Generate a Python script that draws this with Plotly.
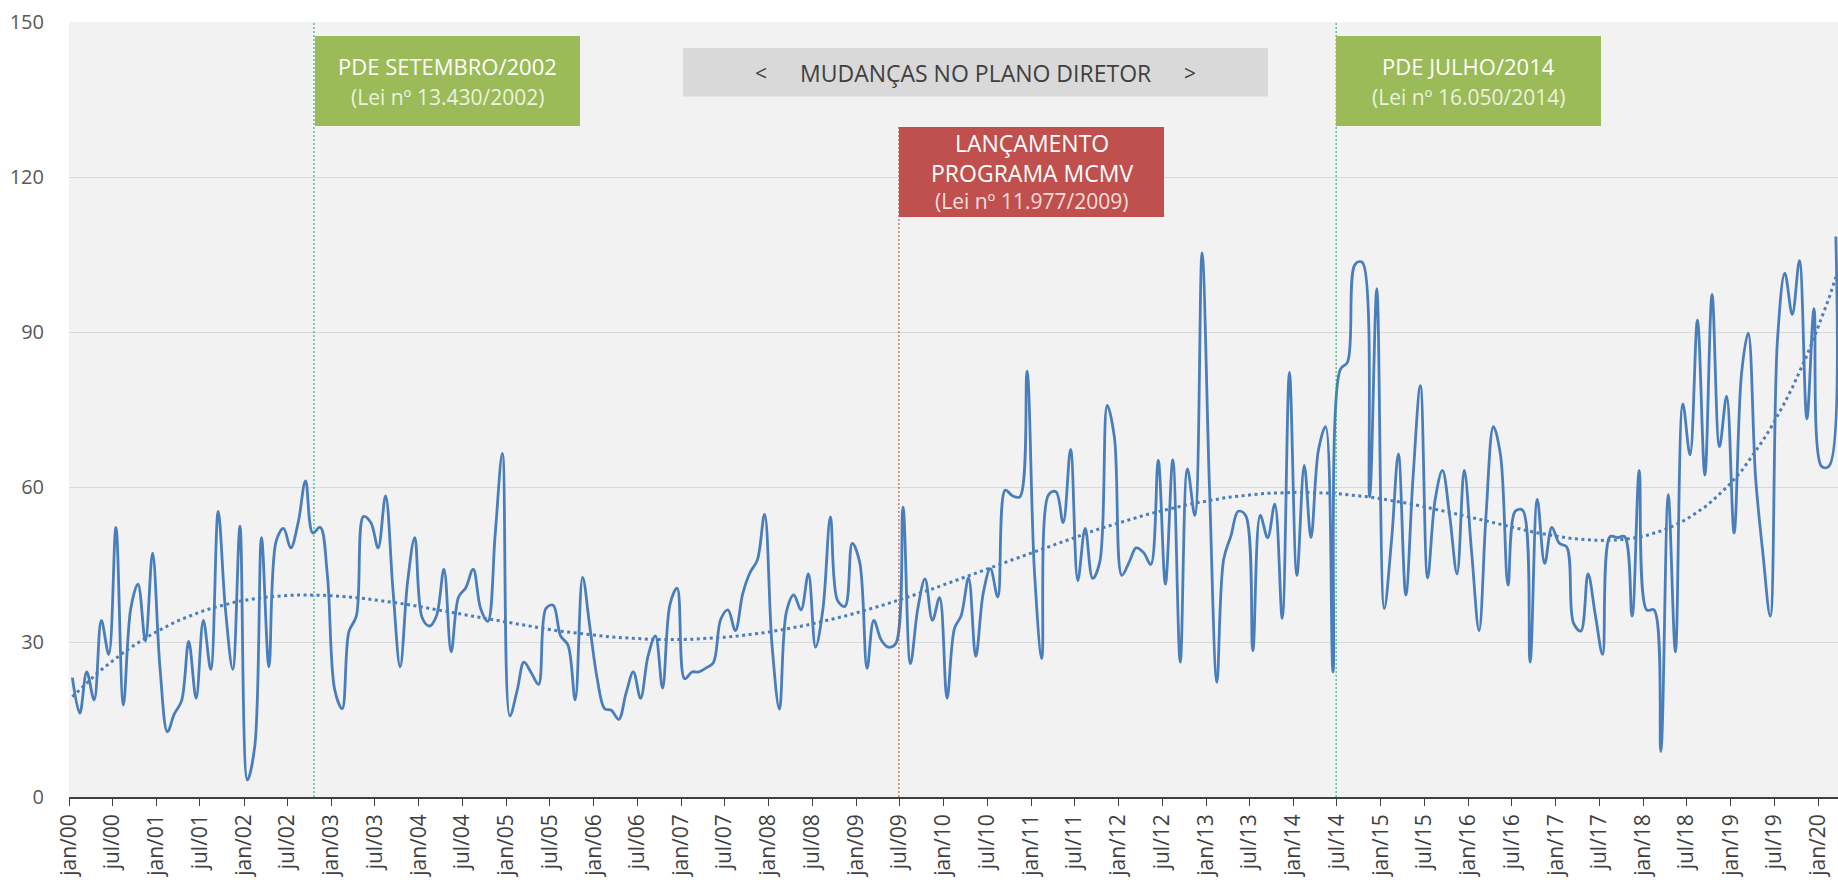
import numpy as np
import plotly.graph_objects as go

# ---------------- data ----------------
values = [
    23.1, 16.2, 24.2, 18.8, 34.2, 27.6, 52.2, 17.8, 36.5, 41.2, 30.2, 47.2,
    25.0, 12.6, 16.0, 18.6, 30.1, 19.1, 34.2, 24.7, 55.3, 36.5, 24.7, 52.4,
    3.3, 9.9, 50.2, 25.2, 49.5, 52.0, 48.2, 53.1, 61.2, 51.1, 52.2, 43.0,
    20.7, 17.1, 32.0, 35.0, 54.3, 53.1, 48.2, 58.3, 40.1, 25.2, 41.6, 50.2,
    34.7, 33.1, 35.1, 44.1, 28.1, 38.7, 40.5, 44.1, 36.5, 34.0, 50.9, 66.5,
    15.7, 20.7, 26.1, 24.0, 21.8, 36.5, 37.1, 31.2, 29.4, 18.8, 42.5, 33.0,
    22.9, 17.1, 16.8, 15.0, 20.0, 24.2, 19.1, 27.2, 31.2, 21.1, 37.3, 40.4,
    22.9, 24.2, 24.2, 25.0, 26.0, 34.4, 36.2, 32.2, 39.4, 43.4, 45.9, 54.7,
    29.4, 17.0, 35.8, 39.1, 36.2, 43.2, 29.0, 36.5, 54.2, 38.0, 36.9, 49.1,
    45.5, 24.9, 34.2, 30.4, 29.0, 29.7, 56.1, 25.8, 36.5, 42.2, 34.2, 38.6,
    19.1, 32.6, 35.1, 42.4, 27.2, 39.4, 44.2, 38.7, 59.4, 58.3, 58.1, 82.4,
    43.7, 26.8, 58.5, 59.1, 53.1, 67.3, 41.9, 52.0, 42.3, 45.5, 75.8, 69.6,
    42.9, 45.5, 48.2, 47.3, 45.0, 65.2, 41.2, 65.3, 26.1, 63.5, 54.5, 105.3,
    60.0, 22.2, 45.9, 50.6, 55.3, 54.5, 28.3, 54.5, 50.2, 56.7, 34.6, 82.2,
    42.9, 64.2, 50.2, 67.1, 71.7, 24.2, 82.7, 84.2, 103.1, 103.5, 58.1, 98.4,
    36.5, 50.0, 66.4, 39.1, 61.7, 79.6, 42.4, 57.4, 63.2, 54.5, 43.2, 63.2,
    47.3, 32.2, 54.5, 71.7, 66.0, 41.0, 55.3, 55.5, 26.1, 57.6, 45.2, 52.2,
    49.1, 48.4, 33.7, 32.1, 43.2, 35.1, 27.6, 50.4, 50.2, 50.4, 35.0, 63.2,
    36.2, 36.2, 8.8, 58.5, 28.1, 76.1, 66.2, 92.3, 62.3, 97.3, 67.8, 77.6,
    51.1, 81.9, 89.8, 61.7, 47.3, 35.0, 88.3, 101.4, 93.4, 103.8, 73.2, 94.5,
    64.0, 64.0, 108.5,
]
dates = [f"{2000 + i // 12}-{i % 12 + 1:02d}-15" for i in range(len(values))]

month_names = ["jan", "jul"]
tick_dates = [f"{y}-{m:02d}-01" for y in range(2000, 2021) for m in (1, 7)][:41]
tick_labels = [f"{month_names[0 if m == 1 else 1]}/{y % 100:02d}"
               for y in range(2000, 2021) for m in (1, 7)][:41]

y_ticks = [0, 30, 60, 90, 120, 150]

event_dates = ["2002-10-20", "2009-06-28", "2014-06-28"]
x_range = ["2000-01-01", "2020-03-24"]

# polynomial trendline (order 6), as computed by the spreadsheet
idx = np.arange(len(values)) / 100.0
coef = np.polyfit(idx, np.array(values), 6)
trend = np.polyval(coef, idx)

# ---------------- figure ----------------
W, H = 1838, 880
L, R, T, B = 69, 0, 22, 83
pw, ph = W - L - R, H - T - B


def xp(px):  # page pixel -> paper
    return (px - L) / pw


def yp(py):
    return (H - B - py) / ph


BLUE = "#4a7ebb"
fig = go.Figure()
fig.add_trace(go.Scatter(
    x=dates, y=values, mode="lines",
    line=dict(color=BLUE, width=2.8, shape="spline", smoothing=1.0),
    hoverinfo="skip", showlegend=False,
))
fig.add_trace(go.Scatter(
    x=dates, y=trend, mode="lines",
    line=dict(color=BLUE, width=3, dash="3px,3.5px"),
    hoverinfo="skip", showlegend=False,
))

shapes = []
shapes.append(dict(type="line", xref="x", yref="paper", x0=event_dates[0], x1=event_dates[0],
                   y0=0, y1=1, line=dict(color="#00b050", width=1, dash="2px,2px"), layer="above"))
shapes.append(dict(type="line", xref="x", yref="paper", x0=event_dates[1], x1=event_dates[1],
                   y0=0, y1=yp(127), line=dict(color="#b5483f", width=1, dash="2px,2px"), layer="above"))
shapes.append(dict(type="line", xref="x", yref="paper", x0=event_dates[2], x1=event_dates[2],
                   y0=0, y1=1, line=dict(color="#00b050", width=1, dash="2px,2px"), layer="above"))
boxes = [
    (315, 580, 36, 126, "#9bbb59"),
    (683, 1268, 48, 96.5, "#d9d9d9"),
    (899, 1164, 127, 217, "#c0504d"),
    (1336, 1601, 36, 126, "#9bbb59"),
]
for x0, x1, y0, y1, c in boxes:
    shapes.append(dict(type="rect", xref="paper", yref="paper",
                       x0=xp(x0), x1=xp(x1), y0=yp(y1), y1=yp(y0),
                       fillcolor=c, line=dict(width=0), layer="above"))

FONT = "Open Sans"
ann = []


def txt(s, x, y, size, color):
    ann.append(dict(text=s, xref="paper", yref="paper", x=xp(x), y=yp(y),
                    xanchor="center", yanchor="middle", showarrow=False,
                    font=dict(family=FONT, size=size, color=color)))


WHITE = "#ffffff"
SOFT = "rgba(255,255,255,0.82)"
txt("PDE SETEMBRO/2002", 447.5, 66, 22, WHITE)
txt("(Lei nº 13.430/2002)", 447.5, 97, 21, SOFT)
txt("PDE JULHO/2014", 1468.5, 66, 22, WHITE)
txt("(Lei nº 16.050/2014)", 1468.5, 97, 21, SOFT)
txt("LANÇAMENTO", 1031.5, 143, 23, WHITE)
txt("PROGRAMA MCMV", 1031.5, 173.5, 23, WHITE)
txt("(Lei nº 11.977/2009)", 1031.5, 201, 21, SOFT)
txt("<", 761, 73, 21, "#404040")
txt("MUDANÇAS NO PLANO DIRETOR", 975.5, 73, 23, "#404040")
txt(">", 1190, 73, 21, "#404040")

fig.update_layout(
    width=W, height=H,
    margin=dict(l=L, r=R, t=T, b=B, autoexpand=False),
    paper_bgcolor="white", plot_bgcolor="#f2f2f2",
    shapes=shapes, annotations=ann, showlegend=False,
    font=dict(family=FONT, color="#404040"),
)
fig.update_xaxes(
    type="date", range=x_range,
    tickmode="array", tickvals=tick_dates, ticktext=tick_labels,
    tickangle=-90, tickfont=dict(family=FONT, size=21, color="#404040"),
    showgrid=False, showline=True, linecolor="#404040", linewidth=1.5,
    ticks="outside", ticklen=7, tickcolor="#404040", tickwidth=1,
    automargin=False, zeroline=False,
)
fig.update_yaxes(
    range=[0, 150], tickmode="array", tickvals=y_ticks,
    tickfont=dict(family=FONT, size=20, color="#595959"),
    showgrid=True, gridcolor="#d9d9d9", gridwidth=1,
    showline=False, zeroline=False, ticks="", ticklabelstandoff=24,
    automargin=False,
)

# remove the default page margin so the 1838x880 figure fills the window exactly
fig.write_html(
    "out.html",
    config={"displayModeBar": False},
    post_script="document.body.style.margin='0px';"
                "document.documentElement.style.overflow='hidden';",
)
